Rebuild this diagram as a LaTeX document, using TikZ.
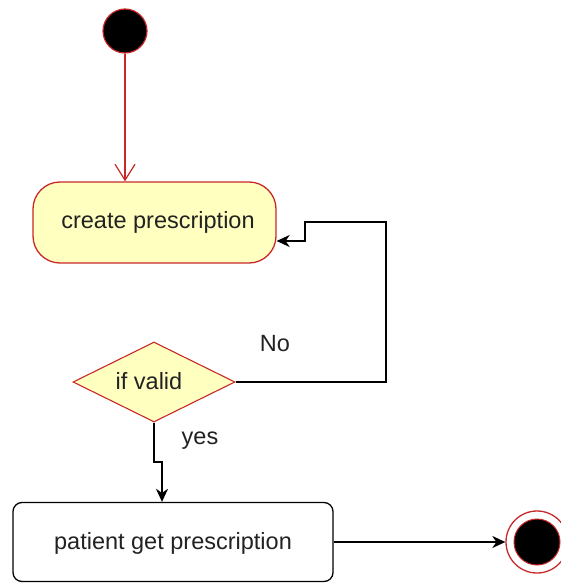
\documentclass[tikz,border=0pt]{standalone}
\usepackage{fontspec}
\setmainfont{Liberation Sans}
\usetikzlibrary{shapes.geometric,arrows.meta}
\definecolor{umlred}{RGB}{200,40,40}
\definecolor{umlfill}{RGB}{255,255,192}
\definecolor{txt}{RGB}{34,34,34}
\begin{document}
\begin{tikzpicture}[x=1pt,y=1pt,
  lbl/.style={font=\fontsize{23.5}{26}\selectfont, text=txt},
  actbox/.style={draw=umlred, fill=umlfill, line width=1.3pt, rounded corners=27pt,
    minimum width=243pt, minimum height=81pt, inner sep=0pt},
  plainbox/.style={draw=black, fill=white, line width=1.3pt, rounded corners=9pt,
    minimum width=320pt, minimum height=79pt, inner sep=0pt},
  decision/.style={diamond, draw=umlred, fill=umlfill, line width=1.1pt, aspect=2.025,
    minimum width=162pt, minimum height=80pt, inner sep=0pt},
  redarrow/.style={draw=umlred, line width=1.2pt, -{Straight Barb[length=16pt,width=20pt]}},
  blackarrow/.style={draw=black, line width=1.5pt, -{Stealth[length=13pt,width=12pt,inset=4pt]}}]
\useasboundingbox (0,0) rectangle (560,-583);
\node[circle, draw=umlred, fill=black, line width=1.2pt, minimum size=44pt, inner sep=0pt] (start) at (125,-31) {};
\node[actbox] (create) at (154.5,-222.5) {};
\node[lbl] (createtxt) at (158,-222) {create prescription};
\node[decision] (dec) at (154,-382) {};
\node[lbl] (dectxt) at (149,-381) {if valid};
\node[plainbox] (patient) at (173,-542) {};
\node[lbl] (patienttxt) at (173,-543) {patient get prescription};
\node[circle, draw=umlred, fill=white, line width=1.3pt, minimum size=62pt, inner sep=0pt] (end) at (537,-542) {};
\node[circle, draw=umlred, fill=black, line width=1pt, minimum size=46pt, inner sep=0pt] (endin) at (537,-542) {};
\node[lbl] (nolbl) at (275,-344) {No};
\node[lbl] (yeslbl) at (200,-441) {yes};
% connectors
\draw[redarrow] (start.south) -- (start.south |- create.north);
\coordinate (c1) at (386,-222);
\coordinate (c2) at (305,-222);
\coordinate (c3) at (305,-241);
\draw[blackarrow] (dec.east) -| (c1) -- (c2) -- (c3) -- (c3 -| create.east);
\coordinate (y1) at (154,-462);
\coordinate (y2) at (162,-462);
\draw[blackarrow] (dec.south) -- (y1) -- (y2) -- (y2 |- patient.north);
\draw[blackarrow] (patient.east) -- (end.west);
\end{tikzpicture}
\end{document}
